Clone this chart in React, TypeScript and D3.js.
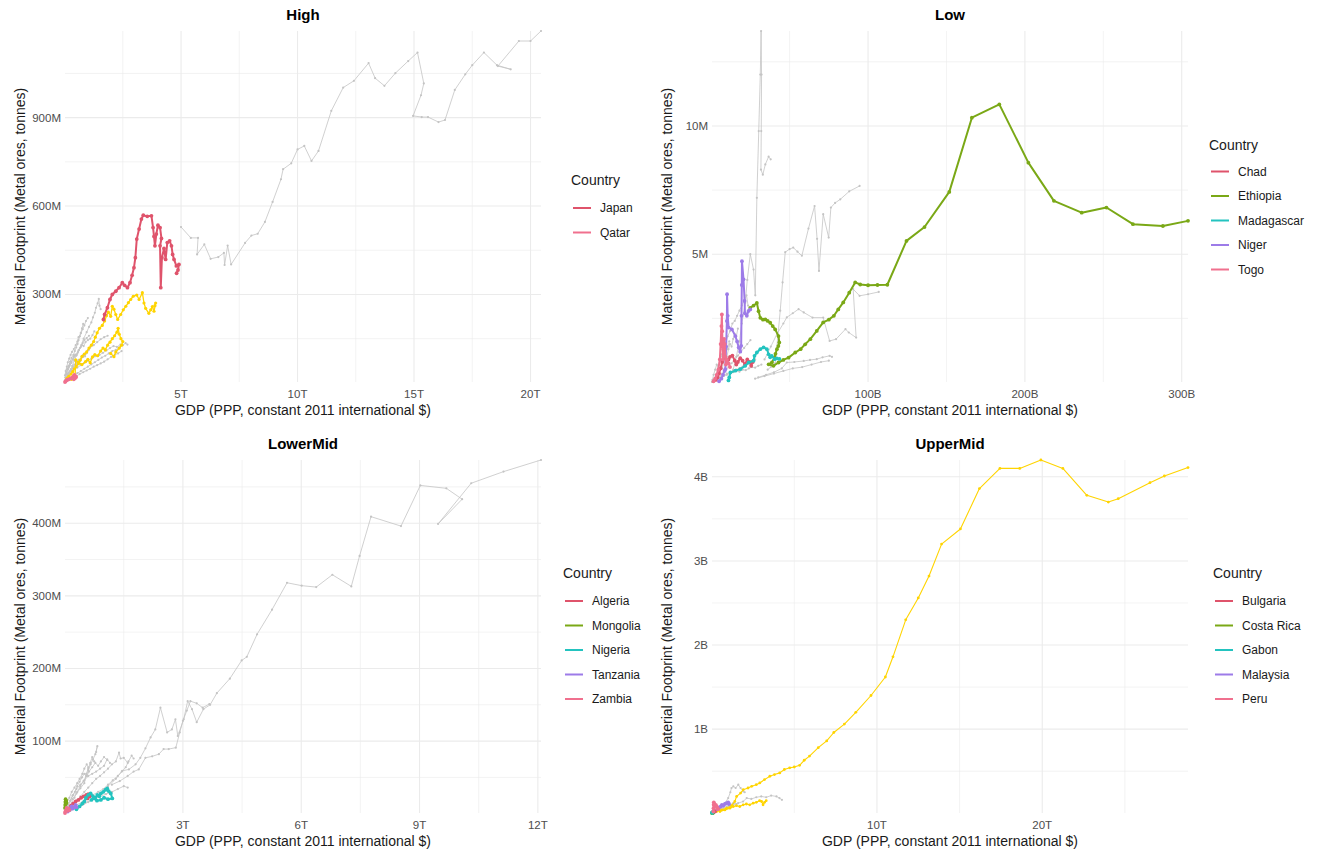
import React from "react";
import * as d3 from "d3";

type Pt = [number, number];

// ---------- colours ----------
const RED = "#DF536B";
const GREEN = "#7AA816";
const TEAL = "#23C3BF";
const PURPLE = "#9D7BE8";
const PINK = "#F0708E";
const GOLD = "#FFD400";
const GREY = "#C4C4C4";

// ---------- High income (x: GDP in T, y: footprint in M) ----------
const HIGH_X_TICKS = [5, 10, 15, 20];
const HIGH_X_MINOR = [2.5, 7.5, 12.5, 17.5];
const HIGH_Y_TICKS = [300, 600, 900];
const HIGH_Y_MINOR = [150, 450, 750, 1050];

const highGreyBig: Pt[] = [[5.0,529],[5.42,492],[5.73,492],[5.69,436],[6.0,470],[6.27,421],[6.6,427],[6.84,441],[6.87,400],[7.0,466],[7.15,402],[7.75,475],[8.02,500],[8.29,506],[8.6,546],[8.93,614],[9.29,691],[9.38,725],[9.73,745],[10.0,792],[10.29,804],[10.6,753],[10.9,787],[11.45,923],[11.96,1002],[12.42,1025],[13.05,1085],[13.33,1034],[13.73,1008],[14.2,1051],[14.75,1092],[15.15,1121],[15.42,1016],[15.3,976],[14.96,906],[15.33,902],[15.6,902],[16.05,885],[16.33,892],[16.75,994],[17.2,1047],[17.5,1078],[18.0,1121],[18.56,1078],[19.15,1064],[18.6,1075],[19.5,1160],[20.0,1160],[20.45,1194]];
const highGrey1: Pt[] = [[0.04,6],[0.1,15],[0.18,28],[0.25,42],[0.33,58],[0.42,75],[0.5,92],[0.6,110],[0.72,128],[0.82,150],[0.95,172],[1.05,190],[1.15,205],[1.22,222],[1.3,238],[1.35,255],[1.42,270],[1.47,285],[1.5,262],[1.55,250]];
const highGrey2: Pt[] = [[0.06,4],[0.15,10],[0.28,18],[0.4,26],[0.55,33],[0.7,40],[0.85,48],[1.0,55],[1.15,63],[1.3,70],[1.45,78],[1.6,86],[1.75,92],[1.9,100],[2.05,108],[2.2,112],[2.35,120],[2.5,128],[2.62,135],[2.7,130]];
const highGrey3: Pt[] = [[0.03,18],[0.08,30],[0.15,45],[0.22,58],[0.3,68],[0.38,80],[0.45,92],[0.55,100],[0.62,112],[0.7,122],[0.78,135],[0.85,145],[0.95,152],[1.05,160]];
const highGrey4: Pt[] = [[0.02,25],[0.05,40],[0.1,55],[0.14,70],[0.2,82],[0.26,95],[0.32,105],[0.4,115],[0.48,128],[0.55,140],[0.6,155],[0.7,168],[0.78,182],[0.85,195],[0.92,210],[1.0,220]];
const highGrey5: Pt[] = [[0.12,30],[0.25,38],[0.4,45],[0.55,52],[0.7,60],[0.85,68],[1.0,75],[1.15,82],[1.3,90],[1.5,95],[1.65,102],[1.8,110],[1.95,118],[2.1,125],[2.25,122],[2.4,130]];
const highGrey6: Pt[] = [[0.08,20],[0.2,35],[0.35,50],[0.5,62],[0.65,75],[0.8,88],[0.9,100],[1.0,110],[1.1,120],[1.25,128],[1.4,138],[1.55,148],[1.7,155],[1.85,160]];
const highGrey7: Pt[] = [[0.03,10],[0.07,18],[0.12,24],[0.16,32],[0.21,38],[0.27,47],[0.31,44],[0.36,55],[0.42,62],[0.47,58],[0.53,70],[0.6,78],[0.66,74],[0.73,86],[0.8,95],[0.88,90],[0.96,102],[1.04,112]];
const highGrey8: Pt[] = [[0.05,28],[0.09,36],[0.13,48],[0.18,52],[0.23,64],[0.28,72],[0.34,80],[0.4,88],[0.46,96],[0.52,94],[0.58,105],[0.66,118],[0.74,128],[0.82,125],[0.9,138],[1.0,145],[1.1,150],[1.2,162],[1.28,175]];
const highGrey9: Pt[] = [[0.2,10],[0.35,18],[0.5,22],[0.65,30],[0.8,36],[0.95,42],[1.1,48],[1.25,55],[1.4,60],[1.55,66],[1.7,72],[1.85,80],[2.0,88],[2.15,95],[2.3,100],[2.45,108]];
const highGrey10: Pt[] = [[0.1,45],[0.18,58],[0.24,72],[0.3,85],[0.38,95],[0.44,108],[0.5,120],[0.56,132],[0.6,145],[0.66,158],[0.7,170],[0.75,185],[0.8,200]];
const highGold1: Pt[] = [[0.1,15],[0.18,22],[0.28,30],[0.35,38],[0.42,48],[0.5,55],[0.6,65],[0.68,78],[0.75,90],[0.85,98],[0.95,105],[1.05,118],[1.15,128],[1.25,140],[1.32,155],[1.4,170],[1.5,185],[1.62,195],[1.72,210],[1.8,228],[1.88,240],[1.98,226],[2.05,260],[2.12,250],[2.2,232],[2.28,215],[2.41,232],[2.52,248],[2.63,260],[2.74,272],[2.84,283],[2.95,294],[3.1,298],[3.2,283],[3.34,306],[3.41,271],[3.48,253],[3.62,236],[3.7,248],[3.77,259],[3.84,243],[3.91,271],[3.88,262]];
const highGold2: Pt[] = [[0.3,12],[0.45,20],[0.48,78],[0.6,70],[0.75,62],[0.9,72],[1.0,80],[1.1,68],[1.2,88],[1.3,96],[1.42,92],[1.55,108],[1.65,118],[1.75,112],[1.85,128],[1.95,138],[2.05,150],[2.15,160],[2.25,172],[2.3,185],[2.35,165],[2.42,150],[2.5,140],[2.45,128],[2.35,118],[2.2,105],[2.12,89],[1.98,100]];
const highJapan: Pt[] = [[1.67,215],[1.72,232],[1.84,255],[1.95,283],[2.05,300],[2.2,311],[2.34,323],[2.48,340],[2.58,331],[2.70,323],[2.81,340],[2.9,365],[2.98,391],[3.04,425],[3.1,488],[3.2,522],[3.3,556],[3.38,569],[3.55,565],[3.73,567],[3.8,527],[3.84,497],[3.88,465],[3.94,505],[4.01,535],[4.1,527],[4.16,490],[4.1,465],[4.13,323],[4.18,425],[4.27,456],[4.34,419],[4.41,476],[4.51,482],[4.59,465],[4.64,436],[4.7,419],[4.8,397],[4.91,402],[4.87,383],[4.81,372]];
const highQatar: Pt[] = [[0.02,3],[0.05,6],[0.09,9],[0.14,11],[0.2,13],[0.27,15],[0.33,18],[0.38,22],[0.42,27],[0.46,24],[0.5,20],[0.45,16],[0.4,12]];

// ---------- Low income (x: GDP in B, y: footprint in M) ----------
const LOW_X_TICKS = [100, 200, 300];
const LOW_X_MINOR = [50, 150, 250];
const LOW_Y_TICKS = [5, 10];
const LOW_Y_MINOR = [2.5, 7.5, 12.5];

const lowGreySpike: Pt[] = [[14,0.5],[16,1.0],[18,1.6],[19.5,2.3],[21.7,3.1],[23,4.0],[24.9,5.0],[27,4.4],[28.1,3.4],[29.1,7.2],[30.3,9.8],[31.3,12.0],[31.8,13.7],[32.1,12.0],[31.9,9.8],[31.7,8.3],[32.9,8.1],[34.5,8.5],[36.6,8.8],[37.9,8.7]];
const lowGreyB: Pt[] = [[36,0.5],[38,0.6],[40.8,0.75],[42.5,1.8],[44,2.8],[45.5,3.9],[47.2,5.08],[50,5.2],[52.3,5.26],[55,5.1],[57.8,4.94],[62,6.0],[65.9,6.88],[67.5,5.6],[68.7,4.35],[71.4,6.56],[74.9,5.65],[76.3,6.82],[79,7.0],[82.3,7.14],[88,7.45],[94.6,7.66]];
const lowGreyC: Pt[] = [[34,0.9],[38,1.4],[42,1.9],[46,2.3],[48.2,2.54],[52,2.7],[55.7,2.86],[59,2.73],[64.6,2.53],[71.4,2.53],[75.5,1.62],[79.6,1.69],[85.6,2.08],[87.7,1.95],[92.4,1.75],[90.5,3.64],[94.6,3.38],[100,3.44],[106.8,3.53]];
const lowGreyD: Pt[] = [[30,0.2],[35,0.3],[40,0.4],[45,0.55],[48.2,0.78],[53,0.8],[59,0.84],[63,0.88],[67.3,0.91],[71,0.98],[75.5,1.04],[77,1.0]];
const lowGreyE: Pt[] = [[28,0.15],[34,0.25],[40,0.35],[46,0.45],[52,0.55],[58,0.6],[64,0.7],[70,0.8],[75,0.85]];
const lowGreyF: Pt[] = [[1,0.02],[3,0.1],[5,0.2],[7,0.35],[9,0.45],[11,0.6],[13,0.75],[15,0.9],[17,1.05],[19,1.2],[21,1.35],[23,1.5],[25,1.65]];
const lowGreyG: Pt[] = [[2,0.05],[4,0.12],[6,0.18],[8,0.25],[10,0.3],[12,0.38],[14,0.45],[16,0.5],[18,0.55],[20,0.62],[22,0.7],[24,0.75],[26,0.82],[28,0.9]];
const lowGreyH: Pt[] = [[1.5,0.1],[3,0.3],[4.5,0.6],[6,0.9],[7.5,1.2],[9,1.5],[10.5,1.8],[12,2.0],[13.5,2.3],[15,2.4],[16.5,2.6],[18,2.8],[19.5,3.0],[21,3.2],[22.5,3.4],[23.5,3.0]];
const lowGreyI: Pt[] = [[0.5,0.02],[2,0.1],[3.5,0.25],[5,0.4],[6,0.6],[7,0.55],[8,0.8],[9,1.1],[10,1.0],[11,1.3],[12,1.5],[13,1.4],[14,1.7],[15,1.9],[16,1.8],[17,2.1]];
const lowGreyJ: Pt[] = [[1,0.05],[2.5,0.08],[4,0.15],[6,0.2],[8,0.28],[10,0.35],[12,0.32],[14,0.4],[16,0.45],[18,0.42],[20,0.5],[22,0.48],[24,0.55],[26,0.6],[28,0.58],[30,0.65],[32,0.7]];
const lowGreyK: Pt[] = [[0.8,0.1],[1.5,0.3],[2.5,0.5],[3.5,0.7],[4.5,0.65],[5.5,0.9],[6.5,1.1],[7.5,1.0],[8.5,1.25],[9.5,1.45],[10.5,1.3],[11.5,1.6]];
const lowChad: Pt[] = [[3,0.1],[4,0.2],[5,0.35],[6,0.55],[7,0.8],[8,1.0],[9,0.95],[10,0.8],[11,0.9],[12,1.0],[13.5,1.05],[15,0.85],[16,0.7],[17,0.8],[18.5,0.95],[20,0.85],[21.5,0.7],[23,0.9],[24.5,0.8],[25.5,0.65],[26.5,0.8]];
const lowEthiopia: Pt[] = [[24.9,2.91],[27,3.0],[29.1,3.1],[30.2,2.78],[31.3,2.52],[33,2.45],[34.5,2.46],[36,2.4],[37.6,2.33],[39.2,2.2],[40.8,2.07],[42.9,1.81],[43.4,1.56],[42.8,1.42],[41.9,1.30],[41,1.12],[40.4,0.97],[38.7,0.78],[36.6,0.71],[39.7,0.65],[42.9,0.78],[46,0.88],[49.3,0.97],[53.6,1.17],[57,1.3],[59.9,1.49],[63.2,1.69],[67.3,2.01],[71.4,2.34],[75,2.45],[78.2,2.6],[81,2.85],[84.2,3.12],[88,3.5],[91.8,3.9],[95,3.82],[100,3.79],[106,3.8],[112.3,3.81],[124.5,5.52],[136,6.06],[151.8,7.43],[166.2,10.32],[183.7,10.84],[202.2,8.57],[218.5,7.08],[236.2,6.62],[252,6.82],[268.9,6.17],[288,6.1],[304,6.3]];
const lowMadagascar: Pt[] = [[11,0.08],[11.5,0.2],[12.2,0.39],[15.4,0.46],[18.5,0.52],[21.7,0.65],[23.9,0.78],[27,0.85],[27.6,1.04],[29.1,1.17],[31.3,1.3],[33.4,1.37],[35.5,1.3],[36.6,1.1],[37.6,0.98],[38.6,1.04],[40.4,0.91],[41.8,0.94],[43.5,0.92]];
const lowNiger: Pt[] = [[5,0.05],[6.5,0.15],[7.5,0.3],[8.5,0.45],[9,0.52],[9.5,1.4],[10,2.4],[10.1,3.44],[10.5,2.6],[11.1,2.14],[13.2,2.07],[15.4,1.81],[16.5,1.6],[17.5,1.36],[18.5,1.2],[19.1,1.43],[19.3,2.6],[19.5,3.8],[19.6,4.73],[20.6,4.02],[21.3,3.18],[21.5,2.7],[22.7,2.6],[23.8,2.79],[24.9,2.85]];
const lowTogo: Pt[] = [[1.5,0.05],[2.5,0.15],[3.5,0.3],[4.5,0.5],[5.5,0.9],[6,1.5],[6.5,2.2],[6.8,2.65],[7,2.0],[7.2,1.4],[7.5,0.9],[7.8,1.3],[8.2,1.7],[8.6,1.5],[9,1.0],[9.4,0.7],[10,0.9],[11,0.75],[12,0.6]];

// ---------- Lower-middle income (x: GDP in T, y: footprint in M) ----------
const LM_X_TICKS = [3, 6, 9, 12];
const LM_X_MINOR = [1.5, 4.5, 7.5, 10.5];
const LM_Y_TICKS = [100, 200, 300, 400];
const LM_Y_MINOR = [50, 150, 250, 350, 450];

const lmGreyBig: Pt[] = [[0.5,14],[0.7,20],[0.9,28],[1.1,38],[1.3,48],[1.46,59],[1.63,61],[1.8,68],[1.92,77],[2.05,90],[2.18,105],[2.3,116],[2.43,146],[2.6,112],[2.72,116],[2.81,130],[2.87,107],[3.02,130],[3.12,155],[3.23,144],[3.35,126],[3.52,144],[3.69,150],[3.86,166],[4.19,186],[4.49,211],[4.62,216],[4.88,247],[5.26,281],[5.64,318],[6.01,314],[6.38,312],[6.79,329],[7.27,313],[7.48,355],[7.77,409],[8.53,396],[9.02,452],[9.68,448],[10.08,433],[9.47,399],[10.31,455],[11.13,471],[12.08,487]];
const lmGrey2: Pt[] = [[1.2,40],[1.4,45],[1.6,52],[1.75,58],[1.88,61],[2.05,77],[2.22,79],[2.39,82],[2.51,89],[2.64,89],[2.82,91],[2.92,112],[3.0,128],[3.1,142],[3.19,155],[3.35,152],[3.5,146],[3.67,151]];
const lmGrey3: Pt[] = [[0.05,3],[0.1,8],[0.18,15],[0.25,22],[0.32,30],[0.4,38],[0.48,45],[0.55,52],[0.6,60],[0.66,68],[0.72,75],[0.78,82],[0.83,93],[0.8,85]];
const lmGrey4: Pt[] = [[0.1,5],[0.2,12],[0.3,18],[0.4,24],[0.5,30],[0.6,36],[0.7,42],[0.8,48],[0.9,52],[1.0,57],[1.1,62],[1.2,68],[1.3,72],[1.38,84],[1.42,76],[1.5,77],[1.6,70]];
const lmGrey5: Pt[] = [[0.15,4],[0.3,8],[0.45,12],[0.6,16],[0.75,20],[0.9,24],[1.05,27],[1.2,30],[1.35,34],[1.5,38],[1.6,36]];
const lmGrey6: Pt[] = [[0.08,10],[0.15,18],[0.22,26],[0.3,34],[0.4,40],[0.5,46],[0.6,52],[0.7,55],[0.8,58],[0.9,62],[1.0,66],[1.08,75],[1.15,70]];
const lmGrey7: Pt[] = [[0.2,20],[0.3,28],[0.4,35],[0.5,42],[0.55,55],[0.6,62],[0.65,70],[0.7,78],[0.75,72]];
const lmGrey8: Pt[] = [[0.04,6],[0.09,12],[0.14,18],[0.2,25],[0.26,30],[0.32,38],[0.38,44],[0.44,50],[0.5,55],[0.56,52],[0.62,58],[0.7,64],[0.78,70],[0.85,66],[0.92,72],[1.0,78],[1.08,74]];
const lmGrey9: Pt[] = [[0.3,12],[0.45,16],[0.6,20],[0.72,26],[0.85,30],[0.98,34],[1.1,40],[1.22,46],[1.35,52],[1.45,58],[1.55,64],[1.62,72],[1.7,80],[1.75,76]];
const lmGrey10: Pt[] = [[0.06,15],[0.12,22],[0.18,30],[0.25,36],[0.32,42],[0.38,48],[0.45,55],[0.5,62],[0.56,68],[0.6,64]];
const lmAlgeria: Pt[] = [[0.05,4],[0.1,7],[0.16,11],[0.22,14],[0.28,17],[0.35,19],[0.42,22],[0.48,24],[0.55,26],[0.6,27],[0.64,24],[0.58,21]];
const lmMongolia: Pt[] = [[0.01,8],[0.015,12],[0.02,16],[0.025,20],[0.03,17],[0.035,14],[0.04,18],[0.05,15]];
const lmNigeria: Pt[] = [[0.3,6],[0.38,10],[0.45,14],[0.5,17],[0.54,22],[0.6,26],[0.66,28],[0.72,24],[0.78,22],[0.83,26],[0.88,24],[0.92,28],[0.98,30],[1.04,33],[1.08,35],[1.12,31],[1.17,28],[1.21,21],[1.1,20],[1.0,22],[0.92,19],[0.82,18],[0.75,21],[0.68,19]];
const lmTanzania: Pt[] = [[0.08,3],[0.12,5],[0.15,8],[0.18,10],[0.2,7],[0.24,9],[0.28,12],[0.3,9]];
const lmZambia: Pt[] = [[0.01,1],[0.02,3],[0.03,5],[0.05,8],[0.06,6],[0.08,4],[0.1,7],[0.12,5]];

// ---------- Upper-middle income (x: GDP in T, y: footprint in B) ----------
const UM_X_TICKS = [10, 20];
const UM_X_MINOR = [5, 15, 25];
const UM_Y_TICKS = [1, 2, 3, 4];
const UM_Y_MINOR = [0.5, 1.5, 2.5, 3.5];

const umGrey1: Pt[] = [[0.8,0.12],[1.0,0.18],[1.13,0.25],[1.2,0.3],[1.31,0.32],[1.45,0.3],[1.61,0.34],[1.75,0.3],[1.91,0.26],[2.0,0.25]];
const umGrey2: Pt[] = [[1.0,0.08],[1.3,0.1],[1.6,0.12],[1.9,0.14],[2.12,0.18],[2.4,0.17],[2.7,0.19],[3.0,0.2],[3.3,0.19],[3.6,0.21],[3.92,0.2],[4.1,0.18],[4.25,0.16]];
const umGrey3: Pt[] = [[0.3,0.03],[0.5,0.05],[0.7,0.06],[0.9,0.08],[1.1,0.1],[1.3,0.12],[1.5,0.11]];
const umGold1: Pt[] = [[0.3,0.02],[0.6,0.04],[0.9,0.06],[1.2,0.09],[1.4,0.14],[1.51,0.2],[1.75,0.24],[1.91,0.28],[2.2,0.3],[2.42,0.32],[2.7,0.34],[2.91,0.36],[3.2,0.4],[3.52,0.44],[3.8,0.46],[4.12,0.48],[4.4,0.52],[4.72,0.54],[5.0,0.55],[5.32,0.57],[5.6,0.63],[5.92,0.68],[6.45,0.78],[6.96,0.86],[7.39,0.96],[8.03,1.06],[8.72,1.2],[9.64,1.4],[10.51,1.62],[10.97,1.86],[11.74,2.3],[12.5,2.56],[13.15,2.82],[13.91,3.2],[15.05,3.38],[16.2,3.86],[17.44,4.1],[18.64,4.1],[19.92,4.2],[21.25,4.1],[22.7,3.78],[24.0,3.7],[24.6,3.74],[26.52,3.93],[27.39,4.01],[28.82,4.11]];
const umGold2: Pt[] = [[0.5,0.02],[0.8,0.04],[1.1,0.06],[1.31,0.08],[1.5,0.09],[1.7,0.08],[1.91,0.1],[2.1,0.11],[2.3,0.1],[2.51,0.12],[2.7,0.13],[2.9,0.15],[3.02,0.14],[3.11,0.1],[3.2,0.13],[3.3,0.15]];
const umBulgaria: Pt[] = [[0.1,0.01],[0.12,0.02],[0.15,0.03],[0.18,0.025],[0.2,0.02]];
const umCostaRica: Pt[] = [[0.02,0.003],[0.04,0.004],[0.06,0.005],[0.08,0.006]];
const umGabon: Pt[] = [[0.03,0.006],[0.04,0.01],[0.05,0.012],[0.06,0.009]];
const umMalaysia: Pt[] = [[0.35,0.05],[0.45,0.07],[0.55,0.08],[0.62,0.1],[0.7,0.09],[0.8,0.11],[0.9,0.12],[1.0,0.13],[1.05,0.11]];
const umPeru: Pt[] = [[0.1,0.02],[0.11,0.06],[0.12,0.1],[0.13,0.13],[0.16,0.11],[0.2,0.09],[0.25,0.1],[0.3,0.08],[0.35,0.06],[0.4,0.05]];

// ---------- panel drawing ----------
interface Named { name: string; color: string; pts: Pt[] }
interface Box { l: number; r: number; t: number; b: number }
interface PanelProps {
  title: string;
  box: Box;
  grey: Pt[][];
  gold: Pt[][];
  goldWidth: number;
  countries: Named[];
  xTicks: number[]; xMinor: number[]; yTicks: number[]; yMinor: number[];
  xSuffix: string; ySuffix: string;
  legend: { x: number; titleY: number; firstY: number };
}

const FONT = "'Liberation Sans', Arial, Helvetica, sans-serif";

function Panel(p: PanelProps) {
  const all = [...p.grey, ...p.gold, ...p.countries.map(c => c.pts)].flat();
  const x = d3.scaleLinear().domain(d3.extent(all, d => d[0]) as [number, number]).range([p.box.l, p.box.r]);
  const y = d3.scaleLinear().domain(d3.extent(all, d => d[1]) as [number, number]).range([p.box.b, p.box.t]);
  const path = d3.line<Pt>().x(d => x(d[0])).y(d => y(d[1]));
  const { l, r, t, b } = p.box;
  const cx = (l + r) / 2;
  const cy = (t + b) / 2;

  const drawSeries = (pts: Pt[], color: string, w: number, rad: number, key: string) => (
    <g key={key}>
      <path d={path(pts) || ""} fill="none" stroke={color} strokeWidth={w} strokeLinejoin="round" strokeLinecap="round" />
      {pts.map((d, i) => (
        <circle key={i} cx={x(d[0])} cy={y(d[1])} r={rad} fill={color} />
      ))}
    </g>
  );

  return (
    <g>
      {/* grid */}
      {p.xMinor.map(v => (
        <line key={"xm" + v} x1={x(v)} x2={x(v)} y1={t} y2={b} stroke="#EBEBEB" strokeWidth={0.6} />
      ))}
      {p.yMinor.map(v => (
        <line key={"ym" + v} x1={l} x2={r} y1={y(v)} y2={y(v)} stroke="#EBEBEB" strokeWidth={0.6} />
      ))}
      {p.xTicks.map(v => (
        <line key={"xg" + v} x1={x(v)} x2={x(v)} y1={t} y2={b} stroke="#EBEBEB" strokeWidth={1.1} />
      ))}
      {p.yTicks.map(v => (
        <line key={"yg" + v} x1={l} x2={r} y1={y(v)} y2={y(v)} stroke="#EBEBEB" strokeWidth={1.1} />
      ))}

      {/* data */}
      {p.grey.map((s, i) => drawSeries(s, GREY, 0.8, 1.1, "g" + i))}
      {p.gold.map((s, i) => drawSeries(s, GOLD, p.goldWidth, p.goldWidth + 0.3, "y" + i))}
      {p.countries.map((c, i) => drawSeries(c.pts, c.color, 2, 1.9, "c" + i))}

      {/* tick labels */}
      {p.xTicks.map(v => (
        <text key={"xt" + v} x={x(v)} y={b + 16} textAnchor="middle" fontSize={11.5} fill="#4D4D4D" fontFamily={FONT}>
          {v + p.xSuffix}
        </text>
      ))}
      {p.yTicks.map(v => (
        <text key={"yt" + v} x={l - 4} y={y(v)} dy="0.35em" textAnchor="end" fontSize={11.5} fill="#4D4D4D" fontFamily={FONT}>
          {v + p.ySuffix}
        </text>
      ))}

      {/* titles */}
      <text x={cx} y={t - 11} textAnchor="middle" fontSize={15} fontWeight="bold" fill="#000" fontFamily={FONT}>
        {p.title}
      </text>
      <text x={cx} y={b + 33} textAnchor="middle" fontSize={14} fill="#1A1A1A" fontFamily={FONT}>
        GDP (PPP, constant 2011 international $)
      </text>
      <text transform={`translate(${l - 45},${cy}) rotate(-90)`} dy="0.35em" textAnchor="middle" fontSize={14} fill="#1A1A1A" fontFamily={FONT}>
        Material Footprint (Metal ores, tonnes)
      </text>

      {/* legend */}
      <text x={p.legend.x} y={p.legend.titleY} dy="0.35em" fontSize={14} fill="#1A1A1A" fontFamily={FONT}>
        Country
      </text>
      {p.countries.map((c, i) => {
        const yy = p.legend.firstY + i * 24.5;
        return (
          <g key={"lg" + i}>
            <line x1={p.legend.x + 2} x2={p.legend.x + 20} y1={yy} y2={yy} stroke={c.color} strokeWidth={2} />
            <text x={p.legend.x + 29} y={yy} dy="0.35em" fontSize={12} fill="#1A1A1A" fontFamily={FONT}>
              {c.name}
            </text>
          </g>
        );
      })}
    </g>
  );
}

export default function App() {
  return (
    <svg
      width={1322}
      height={857}
      viewBox="0 0 1322 857"
      style={{ position: "absolute", left: 0, top: 0, display: "block", background: "#fff" }}
    >
      <rect x={0} y={0} width={1322} height={857} fill="#fff" />
      <Panel
        title="High"
        box={{ l: 65, r: 541, t: 31, b: 382 }}
        grey={[highGrey1, highGrey2, highGrey3, highGrey4, highGrey5, highGrey6, highGrey7, highGrey8, highGrey9, highGrey10, highGreyBig]}
        gold={[highGold1, highGold2]}
        goldWidth={1.3}
        countries={[
          { name: "Japan", color: RED, pts: highJapan },
          { name: "Qatar", color: PINK, pts: highQatar },
        ]}
        xTicks={HIGH_X_TICKS} xMinor={HIGH_X_MINOR} yTicks={HIGH_Y_TICKS} yMinor={HIGH_Y_MINOR}
        xSuffix="T" ySuffix="M"
        legend={{ x: 571, titleY: 180, firstY: 208 }}
      />
      <Panel
        title="Low"
        box={{ l: 712, r: 1188, t: 31, b: 382 }}
        grey={[lowGreyF, lowGreyG, lowGreyH, lowGreyI, lowGreyJ, lowGreyK, lowGreyE, lowGreyD, lowGreyC, lowGreyB, lowGreySpike]}
        gold={[]}
        goldWidth={1}
        countries={[
          { name: "Chad", color: RED, pts: lowChad },
          { name: "Ethiopia", color: GREEN, pts: lowEthiopia },
          { name: "Madagascar", color: TEAL, pts: lowMadagascar },
          { name: "Niger", color: PURPLE, pts: lowNiger },
          { name: "Togo", color: PINK, pts: lowTogo },
        ]}
        xTicks={LOW_X_TICKS} xMinor={LOW_X_MINOR} yTicks={LOW_Y_TICKS} yMinor={LOW_Y_MINOR}
        xSuffix="B" ySuffix="M"
        legend={{ x: 1209, titleY: 145, firstY: 171.5 }}
      />
      <Panel
        title="LowerMid"
        box={{ l: 65, r: 541, t: 460, b: 813 }}
        grey={[lmGrey3, lmGrey4, lmGrey5, lmGrey6, lmGrey7, lmGrey8, lmGrey9, lmGrey10, lmGrey2, lmGreyBig]}
        gold={[]}
        goldWidth={1}
        countries={[
          { name: "Algeria", color: RED, pts: lmAlgeria },
          { name: "Mongolia", color: GREEN, pts: lmMongolia },
          { name: "Nigeria", color: TEAL, pts: lmNigeria },
          { name: "Tanzania", color: PURPLE, pts: lmTanzania },
          { name: "Zambia", color: PINK, pts: lmZambia },
        ]}
        xTicks={LM_X_TICKS} xMinor={LM_X_MINOR} yTicks={LM_Y_TICKS} yMinor={LM_Y_MINOR}
        xSuffix="T" ySuffix="M"
        legend={{ x: 563, titleY: 573, firstY: 601 }}
      />
      <Panel
        title="UpperMid"
        box={{ l: 712, r: 1188, t: 460, b: 813 }}
        grey={[umGrey3, umGrey1, umGrey2]}
        gold={[umGold1, umGold2]}
        goldWidth={1.1}
        countries={[
          { name: "Bulgaria", color: RED, pts: umBulgaria },
          { name: "Costa Rica", color: GREEN, pts: umCostaRica },
          { name: "Gabon", color: TEAL, pts: umGabon },
          { name: "Malaysia", color: PURPLE, pts: umMalaysia },
          { name: "Peru", color: PINK, pts: umPeru },
        ]}
        xTicks={UM_X_TICKS} xMinor={UM_X_MINOR} yTicks={UM_Y_TICKS} yMinor={UM_Y_MINOR}
        xSuffix="T" ySuffix="B"
        legend={{ x: 1213, titleY: 573, firstY: 601 }}
      />
    </svg>
  );
}
